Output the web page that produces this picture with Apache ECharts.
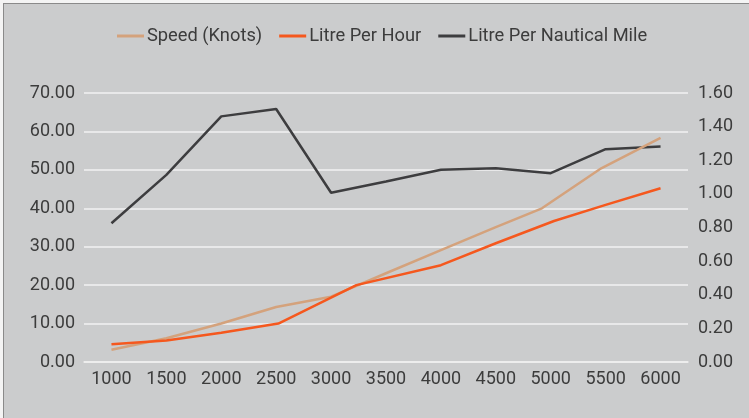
<!DOCTYPE html>
<html>
<head>
<meta charset="utf-8">
<script src="https://cdn.jsdelivr.net/npm/echarts@6/dist/echarts.min.js"></script>
<style>
html,body{margin:0;padding:0;background:#f4f4f4;}
#frame{position:absolute;left:3px;top:3px;width:746px;height:415px;background:#cbcccd;border-left:1px solid #8a8a8a;border-top:1px solid #8a8a8a;}
#chart{position:absolute;left:0;top:0;width:749px;height:418px;}
</style>
</head>
<body>
<div id="frame"></div>
<div id="chart"></div>
<script>
// x-axis tick labels (RPM)
const rpmTicks = [1000,1500,2000,2500,3000,3500,4000,4500,5000,5500,6000];
// Speed (Knots) – left axis
const speedRpm   = [1000,1500,2000,2500,3000,3500,4000,4500,4920,5460,6000];
const speedKnots = [3.2,6.2,10.0,14.3,17.0,23.1,29.1,35.1,40.0,50.4,58.3];
// Litre Per Hour – left axis
const lphRpm = [1000,1500,2000,2520,3230,4000,4500,5030,5500,6000];
const lph    = [4.6,5.6,7.6,10.0,20.0,25.2,30.9,36.7,40.9,45.2];
// Litre Per Nautical Mile – right axis
const lpnmRpm = [1000,1500,2000,2500,3000,3500,4000,4500,5000,5500,6000];
const lpnm    = [0.825,1.113,1.461,1.505,1.007,1.074,1.143,1.153,1.123,1.266,1.282];

const names = ['Speed (Knots)','Litre Per Hour','Litre Per Nautical Mile'];
const colors = ['#d4a27c','#f5581e','#3d3d3f'];
const pair = (xs, ys) => xs.map((x,i)=>[x, ys[i]]);

const txt = '#3c3c3c';
const font = 'Roboto';
const chart = echarts.init(document.getElementById('chart'));
chart.setOption({
  backgroundColor: 'transparent',
  animation: false,
  textStyle: {fontFamily: font},
  legend: {
    top: 22, left: 112,
    itemWidth: 27, itemHeight: 3, itemGap: 17,
    icon: 'rect',
    textStyle: {fontSize: 18.3, color: txt, fontFamily: font, padding: [0,0,0,-2]},
    data: names
  },
  grid: {left: 84, right: 61, top: 93, bottom: 56, containLabel: false},
  xAxis: {
    type: 'value', min: 750, max: 6250, interval: 250,
    axisLine: {show: true, lineStyle: {color: '#eeeeee', width: 1.5}},
    axisTick: {show: false},
    splitLine: {show: false},
    axisLabel: {
      margin: 8, fontSize: 18, color: txt, fontFamily: font,
      showMinLabel: false, showMaxLabel: false,
      formatter: v => rpmTicks.includes(v) ? String(v) : ''
    }
  },
  yAxis: [
    {type: 'value', min: 0, max: 70, interval: 10,
     axisLine: {show: false}, axisTick: {show: false},
     splitLine: {lineStyle: {color: '#f2f2f2', width: 1.5}},
     axisLabel: {margin: 9, fontSize: 18, color: txt, fontFamily: font, formatter: v => v.toFixed(2)}},
    {type: 'value', min: 0, max: 1.6, interval: 0.2,
     axisLine: {show: false}, axisTick: {show: false},
     splitLine: {show: false},
     axisLabel: {margin: 10, fontSize: 18, color: txt, fontFamily: font, formatter: v => v.toFixed(2)}}
  ],
  series: [
    {name: names[0], type: 'line', yAxisIndex: 0, data: pair(speedRpm, speedKnots),
     showSymbol: false, symbol: 'none', color: colors[0], lineStyle: {width: 2.5, color: colors[0]}, z: 3},
    {name: names[1], type: 'line', yAxisIndex: 0, data: pair(lphRpm, lph),
     showSymbol: false, symbol: 'none', color: colors[1], lineStyle: {width: 2.5, color: colors[1]}, z: 4},
    {name: names[2], type: 'line', yAxisIndex: 1, data: pair(lpnmRpm, lpnm),
     showSymbol: false, symbol: 'none', color: colors[2], lineStyle: {width: 2.5, color: colors[2]}, z: 2}
  ]
});
</script>
</body>
</html>
